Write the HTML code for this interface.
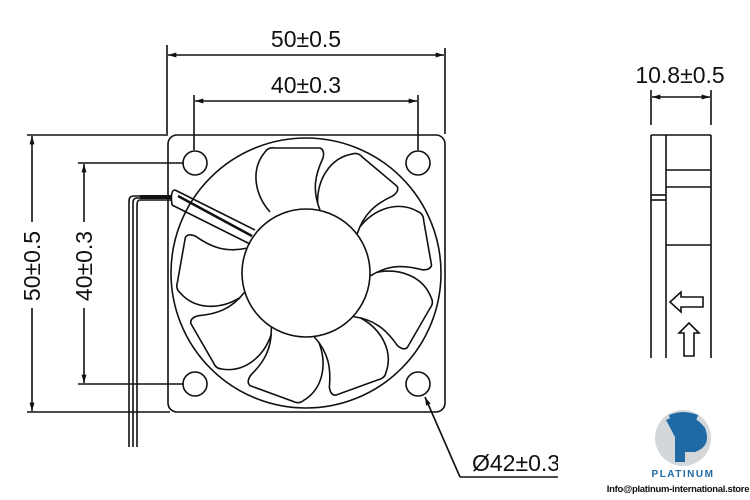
<!DOCTYPE html>
<html><head><style>
body{margin:0;background:#fff;}
svg{display:block;font-family:"Liberation Sans",sans-serif;}
</style></head><body>
<svg width="750" height="500" viewBox="0 0 750 500" xmlns="http://www.w3.org/2000/svg">
<defs>
<marker id="a" viewBox="0 0 10 6" refX="10" refY="3" markerWidth="10" markerHeight="5" orient="auto-start-reverse" markerUnits="userSpaceOnUse"><path d="M0,0 L10,3 L0,6 z" fill="#111"/></marker>
<clipPath id="c"><rect x="0" y="0" width="558" height="500"/></clipPath>
</defs>
<g stroke="#111" stroke-width="1.6" fill="none">
<line x1="167" y1="45" x2="167" y2="134"/>
<line x1="445" y1="48" x2="445" y2="134"/>
<line x1="194" y1="95" x2="194" y2="150"/>
<line x1="418" y1="95" x2="418" y2="150"/>
<line x1="168" y1="55" x2="444" y2="55" marker-start="url(#a)" marker-end="url(#a)"/>
<line x1="195" y1="101" x2="417" y2="101" marker-start="url(#a)" marker-end="url(#a)"/>
<line x1="27" y1="135" x2="168" y2="135"/>
<line x1="78" y1="163" x2="184" y2="163"/>
<line x1="78" y1="384" x2="184" y2="384"/>
<line x1="27" y1="412" x2="170" y2="412"/>
<line x1="32" y1="136" x2="32" y2="222" marker-start="url(#a)"/>
<line x1="32" y1="308" x2="32" y2="411" marker-end="url(#a)"/>
<line x1="84" y1="164" x2="84" y2="222" marker-start="url(#a)"/>
<line x1="84" y1="308" x2="84" y2="383" marker-end="url(#a)"/>
<rect x="168" y="135" width="277" height="277" rx="9"/>
<circle cx="195" cy="163" r="12"/>
<circle cx="418" cy="163" r="12"/>
<circle cx="195" cy="384" r="12"/>
<circle cx="418" cy="384" r="12"/>
<circle cx="306" cy="273" r="135"/>
<circle cx="306" cy="273" r="64"/>
<g id="b">
<path d="M270,212 C255,195 250,170 265,152 Q268,147 275,148 L320,148 Q325,150 323,158 C315,175 312,190 320,210"/>
</g>
<use href="#b" transform="rotate(40 306 273)"/>
<use href="#b" transform="rotate(80 306 273)"/>
<use href="#b" transform="rotate(120 306 273)"/>
<use href="#b" transform="rotate(160 306 273)"/>
<use href="#b" transform="rotate(200 306 273)"/>
<use href="#b" transform="rotate(240 306 273)"/>
<use href="#b" transform="rotate(280 306 273)"/>
<path d="M175,190 L255,230 M172,205 L250,244 M175,190 Q170,190 172,205"/>
<path d="M178,196 L252,236" stroke-width="2.5"/>
<path d="M172,196 L134,196 Q129,196 129,201 L129,447"/>
<path d="M172,198 L137,198 Q133,198 133,203 L133,447"/>
<path d="M172,200 L140,200 Q137,200 137,205 L137,447"/>
<line x1="140" y1="197" x2="172" y2="197" stroke-width="4"/>
<polyline points="460,477 558,477" />
<line x1="460" y1="477" x2="425" y2="397" marker-end="url(#a)"/>
<line x1="651" y1="90" x2="651" y2="125"/>
<line x1="711" y1="90" x2="711" y2="125"/>
<line x1="652" y1="97" x2="710" y2="97" marker-start="url(#a)" marker-end="url(#a)"/>
<line x1="651" y1="135" x2="651" y2="358"/>
<line x1="666" y1="135" x2="666" y2="358"/>
<line x1="711" y1="135" x2="711" y2="358"/>
<line x1="651" y1="135" x2="711" y2="135"/>
<line x1="666" y1="170" x2="711" y2="170"/>
<line x1="666" y1="187" x2="711" y2="187"/>
<line x1="666" y1="245" x2="711" y2="245"/>
<line x1="651" y1="195" x2="666" y2="195"/>
<line x1="651" y1="200" x2="666" y2="200"/>
<path d="M670,302 L681,292 L681,297 L703,297 L703,307 L681,307 L681,312 Z"/>
<path d="M689,323 L699,333 L694,333 L694,356 L684,356 L684,333 L679,333 Z"/>
</g>
<g fill="#111" font-size="23">
<text x="306" y="47" text-anchor="middle">50±0.5</text>
<text x="306" y="93" text-anchor="middle">40±0.3</text>
<text x="680" y="83" text-anchor="middle">10.8±0.5</text>
<text transform="translate(40,266) rotate(-90)" text-anchor="middle">50±0.5</text>
<text transform="translate(92,266) rotate(-90)" text-anchor="middle">40±0.3</text>
<text x="472" y="471" clip-path="url(#c)">Ø42±0.3</text>
</g>
<circle cx="683" cy="438" r="28" fill="#d4d7da"/>
<path d="M666,420 Q690,408 705,428 Q712,446 695,452 L685,452 L685,462 L675,462 L675,430 L693,430 Q700,438 692,443 L685,443 L685,437 L675,437 Z" fill="#1f6aa5"/>
<path d="M670,418 Q683,412 697,418" stroke="#1f6aa5" stroke-width="6" fill="none"/>
<text x="683" y="477" text-anchor="middle" font-size="10" fill="#1f6aa5" font-weight="bold" letter-spacing="1.5">PLATINUM</text>
<text x="678" y="492" text-anchor="middle" font-size="9.5" fill="#111" font-weight="bold" letter-spacing="-0.3">Info@platinum-international.store</text>
</svg>
</body></html>
